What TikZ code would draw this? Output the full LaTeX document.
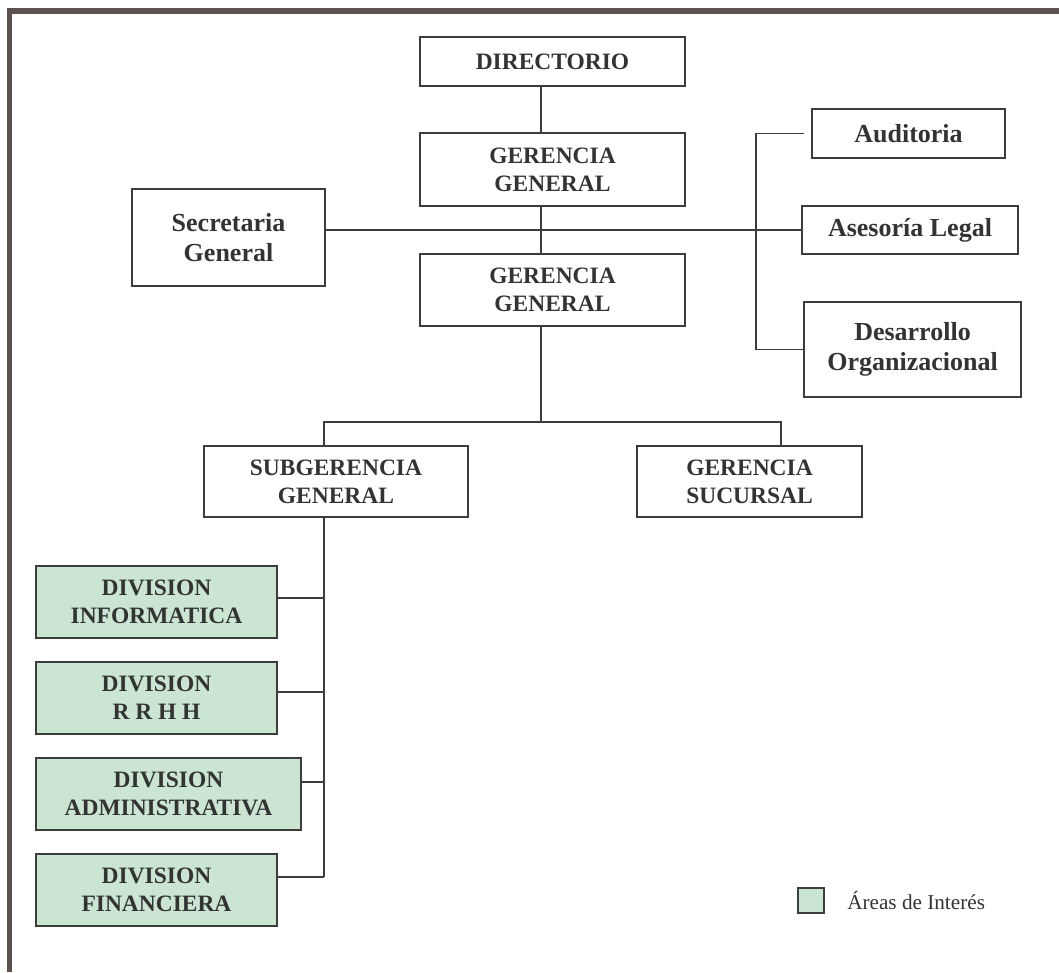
\documentclass[tikz,border=0pt]{standalone}
\usepackage{fontspec}
\setmainfont{Liberation Serif}
\usetikzlibrary{calc}
\definecolor{frame}{HTML}{5B514D}
\definecolor{ink}{HTML}{333333}
\definecolor{edge}{HTML}{3D3D3D}
\definecolor{interest}{HTML}{CBE5D3}

\begin{document}
\begin{tikzpicture}[x=0.75pt,y=-0.75pt,
  sz/.style 2 args={minimum width=#1*0.75pt, minimum height=#2*0.75pt},
  unit/.style={draw=edge, line width=1.5pt, fill=white, text=ink, align=center,
    inner sep=0pt, font=\fontsize{17.6}{21}\selectfont\bfseries},
  side/.style={unit, font=\fontsize{19.5}{23}\selectfont\bfseries},
  area/.style={unit, fill=interest},
  link/.style={draw=edge, line width=1.4pt}]

\useasboundingbox (0,0) rectangle (1059,972);
\fill[white] (0,0) rectangle (1059,972);

% page frame: top and left bars
\fill[frame] (7,8) rectangle (1059,14);
\fill[frame] (7,8) rectangle (12,972);

% units
\node[unit, sz={265}{49}] (dir) at (552.5,61.5) {DIRECTORIO};
\node[unit, sz={265}{73}] (gg1) at (552.5,169.5) {GERENCIA\\GENERAL};
\node[unit, sz={265}{72}] (gg2) at (552.5,290) {GERENCIA\\GENERAL};
\node[side, sz={193}{97}] (sec) at (228.5,237.5) {Secretaria\\General};
\node[side, sz={193}{49}] (aud) at (908.5,133.5) {Auditoria};
\node[side, sz={216}{48}] (ase) at (910,230) {Asesoría Legal};
\node[side, sz={217}{95}] (des) at (912.5,349.5) {Desarrollo\\Organizacional};
\node[unit, sz={264}{71}] (sub) at (336,481.5) {SUBGERENCIA\\GENERAL};
\node[unit, sz={225}{71}] (suc) at (749.5,481.5) {GERENCIA\\SUCURSAL};

% divisions of interest
\node[area, sz={241}{72}] (inf) at (156.5,602) {DIVISION\\INFORMATICA};
\node[area, sz={241}{72}] (rrhh) at (156.5,698) {DIVISION\\R R H H};
\node[area, sz={265}{72}] (adm) at (168.5,794) {DIVISION\\ADMINISTRATIVA};
\node[area, sz={241}{72}] (fin) at (156.5,890) {DIVISION\\FINANCIERA};

% legend
\node[area, sz={26}{25}] (key) at (811,900.5) {};
\node[anchor=west, inner sep=0pt, text=ink, font=\fontsize{15.9}{18}\selectfont]
  (keytext) at (847,900) {Áreas de Interés};

% connector guides
\coordinate (spine) at (541,0);
\coordinate (split) at (541,422);
\coordinate (bx) at (324,0);
\coordinate (rb) at (756,0);
\coordinate (dropR) at (781,0);

% main line
\draw[link] (dir.south -| spine) -- (gg1.north -| spine);
\draw[link] (gg1.south -| spine) -- (gg2.north -| spine);
\draw[link] (gg2.south -| spine) -- (split);
\draw[link] (sec.east |- ase.west) -- (ase.west);

% staff bracket
\draw[link] ($(aud.west)+(-7,0)$) -| (rb |- des.west) -- (des.west);

% lower branches
\draw[link] (sub.north -| bx) |- (split) -| (suc.north -| dropR);

% division bus
\foreach \n/\d in {inf/-4, rrhh/-6, adm/-12, fin/-13}
  \draw[link] ($(\n.east)+(0,\d)$) coordinate (t\n) -- (t\n -| bx);
\draw[link] (sub.south -| bx) -- (bx |- tfin);

\end{tikzpicture}
\end{document}
